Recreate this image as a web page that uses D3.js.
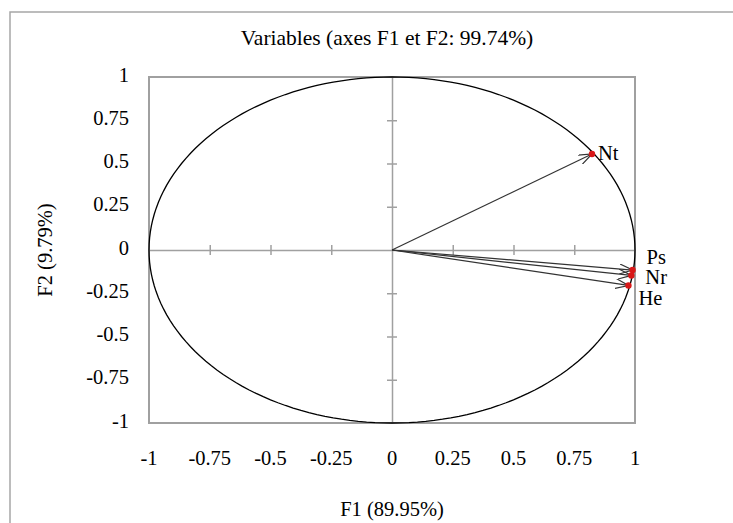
<!DOCTYPE html>
<html lang="en">
<head>
<meta charset="UTF-8">
<title>Variables</title>
<script src="https://d3js.org/d3.v7.min.js"></script>
<style>
    body { margin: 0; background: #fff; }
    svg text { font-family: "Liberation Serif", "Times New Roman", serif; fill: #000; }
</style>
</head>
<body>
<script>
    const variables = ["Nt", "Ps", "Nr", "He"]
    const f1 = [0.823, 0.990, 0.985, 0.973]
    const f2 = [0.555, -0.116, -0.147, -0.205]
    const ticks = [-1, -0.75, -0.5, -0.25, 0, 0.25, 0.5, 0.75, 1]
    const labelOffset = { Nt: [6, 1], Ps: [14, -11], Nr: [14, 4], He: [10, 15] }

    const W = 733, H = 523
    const plot = { left: 149, top: 77, right: 635, bottom: 423 }

    const x = d3.scaleLinear().domain([-1, 1]).range([plot.left, plot.right])
    const y = d3.scaleLinear().domain([-1, 1]).range([plot.bottom, plot.top])

    const svg = d3.select("body").append("svg")
        .attr("width", W)
        .attr("height", H)

    // outer frame
    svg.append("rect")
        .attr("x", 10).attr("y", 12)
        .attr("width", W).attr("height", H)
        .attr("fill", "none").attr("stroke", "#a6a6a6").attr("stroke-width", 1.5)

    svg.append("text")
        .attr("x", 387).attr("y", 40)
        .attr("text-anchor", "middle").attr("dominant-baseline", "middle")
        .style("font-size", "21.5px")
        .text("Variables (axes F1 et F2: 99.74%)")

    // plot area
    svg.append("rect")
        .attr("x", plot.left).attr("y", plot.top)
        .attr("width", plot.right - plot.left).attr("height", plot.bottom - plot.top)
        .attr("fill", "none").attr("stroke", "#a0a0a0").attr("stroke-width", 2)

    // axes through the origin
    const inner = ticks.slice(1, -1).filter(d => d !== 0)
    const xAxis = d3.axisBottom(x).tickValues(inner).tickSizeOuter(0).tickFormat("")
    const yAxis = d3.axisLeft(y).tickValues(inner).tickSizeOuter(0).tickFormat("")

    const gx = svg.append("g")
        .attr("transform", "translate(0," + y(0) + ")")
        .call(xAxis)
    gx.selectAll(".tick line").attr("y1", -5).attr("y2", 5)
    const gy = svg.append("g")
        .attr("transform", "translate(" + x(0) + ",0)")
        .call(yAxis)
    gy.selectAll(".tick line").attr("x1", -5).attr("x2", 5)
    svg.selectAll(".domain, .tick line").attr("stroke", "#a0a0a0").attr("stroke-width", 1.5)

    // tick labels
    svg.append("g").selectAll("text").data(ticks).join("text")
        .attr("x", d => x(d)).attr("y", 460)
        .attr("text-anchor", "middle").attr("dominant-baseline", "middle")
        .style("font-size", "20.5px")
        .text(d => d)
    svg.append("g").selectAll("text").data(ticks).join("text")
        .attr("x", 129).attr("y", d => y(d))
        .attr("text-anchor", "end").attr("dominant-baseline", "middle")
        .style("font-size", "20.5px")
        .text(d => d)

    svg.append("text")
        .attr("x", x(0)).attr("y", 511)
        .attr("text-anchor", "middle").attr("dominant-baseline", "middle")
        .style("font-size", "20.5px")
        .text("F1 (89.95%)")
    svg.append("text")
        .attr("transform", "translate(47," + y(0) + ") rotate(-90)")
        .attr("text-anchor", "middle").attr("dominant-baseline", "middle")
        .style("font-size", "20.5px")
        .text("F2 (9.79%)")

    // correlation circle
    const circle = d3.range(0, 361, 2).map(a => [Math.cos(a * Math.PI / 180), Math.sin(a * Math.PI / 180)])
    svg.append("path")
        .attr("d", d3.line().x(d => x(d[0])).y(d => y(d[1]))(circle))
        .attr("fill", "none").attr("stroke", "#000").attr("stroke-width", 1.3)

    // arrows
    svg.append("defs").append("marker")
        .attr("id", "head")
        .attr("viewBox", "0 0 13 10")
        .attr("refX", 13).attr("refY", 5)
        .attr("markerWidth", 13).attr("markerHeight", 10)
        .attr("markerUnits", "userSpaceOnUse")
        .attr("orient", "auto")
        .append("path")
        .attr("d", "M0,0 L13,5 L0,10")
        .attr("fill", "none").attr("stroke", "#333").attr("stroke-width", 1.2)

    const data = variables.map((v, i) => ({ name: v, f1: f1[i], f2: f2[i] }))

    svg.append("g").selectAll("line").data(data).join("line")
        .attr("x1", x(0)).attr("y1", y(0))
        .attr("x2", d => x(d.f1)).attr("y2", d => y(d.f2))
        .attr("stroke", "#333").attr("stroke-width", 1.2)
        .attr("marker-end", "url(#head)")

    svg.append("g").selectAll("circle").data(data).join("circle")
        .attr("cx", d => x(d.f1)).attr("cy", d => y(d.f2))
        .attr("r", 3.2).attr("fill", "#d81818")

    svg.append("g").selectAll("text").data(data).join("text")
        .attr("x", d => x(d.f1) + labelOffset[d.name][0])
        .attr("y", d => y(d.f2) + labelOffset[d.name][1])
        .attr("dominant-baseline", "middle")
        .style("font-size", "20.5px")
        .text(d => d.name)
</script>
</body>
</html>
